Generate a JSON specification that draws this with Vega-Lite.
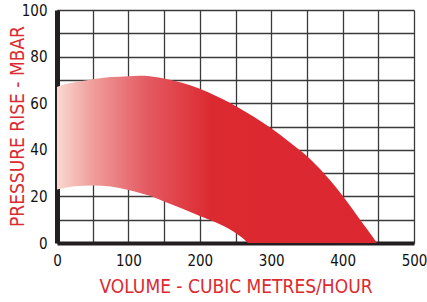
{
  "$schema": "https://vega.github.io/schema/vega-lite/v6.json",
  "width": 357,
  "height": 233,
  "autosize": {"type": "none"},
  "padding": {"left": 57, "top": 10, "right": 13, "bottom": 59},
  "background": "white",
  "config": {
    "view": {"stroke": null},
    "font": "DejaVu Sans Condensed, sans-serif"
  },
  "data": {
    "values": [
      {"volume": 0, "high": 67, "low": 23},
      {"volume": 10, "high": 68, "low": 23.6},
      {"volume": 25, "high": 69, "low": 24.4},
      {"volume": 50, "high": 70.3, "low": 24.7},
      {"volume": 75, "high": 71.2, "low": 24.2},
      {"volume": 100, "high": 71.6, "low": 22.7},
      {"volume": 115, "high": 71.8, "low": 21.6},
      {"volume": 130, "high": 71.6, "low": 20.3},
      {"volume": 150, "high": 70.6, "low": 17.8},
      {"volume": 175, "high": 68.8, "low": 14.8},
      {"volume": 200, "high": 66.2, "low": 11.6},
      {"volume": 225, "high": 62.8, "low": 8.5},
      {"volume": 240, "high": 60.5, "low": 6.2},
      {"volume": 255, "high": 57.9, "low": 3.2},
      {"volume": 262, "high": 56.7, "low": 1.6},
      {"volume": 268, "high": 55.6, "low": 0},
      {"volume": 275, "high": 54.3, "low": 0},
      {"volume": 300, "high": 49.3, "low": 0},
      {"volume": 325, "high": 43.5, "low": 0},
      {"volume": 350, "high": 37.3, "low": 0},
      {"volume": 375, "high": 29.5, "low": 0},
      {"volume": 400, "high": 20.3, "low": 0},
      {"volume": 425, "high": 9.8, "low": 0},
      {"volume": 440, "high": 3.5, "low": 0},
      {"volume": 448, "high": 0, "low": 0}
    ]
  },
  "mark": {
    "type": "area",
    "interpolate": "monotone",
    "color": {
      "gradient": "linear",
      "x1": 0, "x2": 1, "y1": 0, "y2": 0,
      "stops": [
        {"offset": 0, "color": "#f9d8d0"},
        {"offset": 0.12, "color": "#ef9a98"},
        {"offset": 0.28, "color": "#e45a62"},
        {"offset": 0.48, "color": "#dc2a31"},
        {"offset": 1, "color": "#dc2730"}
      ]
    }
  },
  "encoding": {
    "x": {
      "field": "volume",
      "type": "quantitative",
      "scale": {"domain": [0, 500], "nice": false, "zero": true},
      "axis": {
        "values": [0, 50, 100, 150, 200, 250, 300, 350, 400, 450, 500],
        "labelExpr": "datum.value % 100 == 0 ? datum.label : ''",
        "title": "VOLUME - CUBIC METRES/HOUR",
        "titleColor": "#dc2a31",
        "titleFontSize": 19,
        "titleFontWeight": "normal",
        "titleX": 178.5,
        "titleY": 49,
        "titleAlign": "center",
        "titleBaseline": "alphabetic",
        "labelFontSize": 15,
        "labelColor": "#111",
        "labelPadding": 10,
        "labelFlush": false,
        "labelOverlap": false,
        "ticks": false,
        "tickSize": 0,
        "grid": true,
        "gridColor": "#3a3a3a",
        "gridWidth": 1.3,
        "domainColor": "#231f20",
        "domainWidth": 4,
        "zindex": 0
      }
    },
    "y": {
      "field": "high",
      "type": "quantitative",
      "scale": {"domain": [0, 100], "nice": false},
      "axis": {
        "values": [0, 10, 20, 30, 40, 50, 60, 70, 80, 90, 100],
        "labelExpr": "datum.value % 20 == 0 ? datum.label : ''",
        "title": "PRESSURE RISE - MBAR",
        "titleColor": "#dc2a31",
        "titleFontSize": 19,
        "titleFontWeight": "normal",
        "titleX": -34,
        "titleY": 116,
        "titleAngle": -90,
        "titleAlign": "center",
        "titleBaseline": "alphabetic",
        "labelFontSize": 15,
        "labelColor": "#111",
        "labelPadding": 10,
        "labelFlush": false,
        "labelOverlap": false,
        "ticks": false,
        "tickSize": 0,
        "grid": true,
        "gridColor": "#3a3a3a",
        "gridWidth": 1.3,
        "domainColor": "#231f20",
        "domainWidth": 5,
        "zindex": 0
      }
    },
    "y2": {"field": "low"}
  }
}
